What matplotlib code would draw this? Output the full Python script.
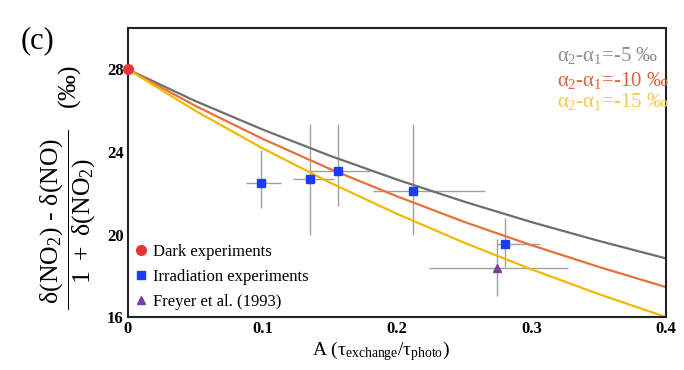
import matplotlib
matplotlib.use("Agg")
import matplotlib.pyplot as plt

plt.rcParams['font.family'] = ['Liberation Serif', 'DejaVu Serif']
plt.rcParams['mathtext.fontset'] = 'custom'
plt.rcParams['mathtext.rm'] = 'Liberation Serif'
plt.rcParams['mathtext.it'] = 'Liberation Serif'
plt.rcParams['mathtext.bf'] = 'Liberation Serif:bold'

# model curves
curve_x = [0, 0.05, 0.1, 0.15, 0.2, 0.25, 0.3, 0.35, 0.4]
curve_m5 = [28, 26.47, 25.09, 23.82, 22.66, 21.59, 20.60, 19.69, 18.84]
curve_m10 = [28, 26.24, 24.64, 23.18, 21.85, 20.61, 19.48, 18.43, 17.45]
curve_m15 = [28, 26.00, 24.18, 22.52, 21.00, 19.60, 18.31, 17.11, 16.00]

dark_x = [0.0]
dark_y = [28.0]

irr_x = [0.099, 0.135, 0.156, 0.212, 0.280]
irr_y = [22.5, 22.7, 23.1, 22.1, 19.55]
irr_xlo = [0.0875, 0.123, 0.134, 0.182, 0.2745]
irr_xhi = [0.114, 0.153, 0.180, 0.265, 0.306]
irr_ylo = [21.3, 20.0, 21.4, 20.0, 18.45]
irr_yhi = [24.1, 25.35, 25.35, 25.35, 20.8]

frey_x = [0.2746]
frey_y = [18.38]
frey_xlo = [0.224]
frey_xhi = [0.327]
frey_ylo = [17.0]
frey_yhi = [19.8]

fig = plt.figure(figsize=(6.84, 3.70), dpi=100)
ax = fig.add_axes([0.187, 0.143, 0.787, 0.781])

ax.plot(curve_x, curve_m5, color='#6e6e6e', lw=1.6, zorder=2)
ax.plot(curve_x, curve_m10, color='#e8703a', lw=1.6, zorder=2)
ax.plot(curve_x, curve_m15, color='#f5b800', lw=1.6, zorder=2)

def err(xs, ys, xlo, xhi, ylo, yhi):
    xe = [[x - l for x, l in zip(xs, xlo)], [h - x for x, h in zip(xs, xhi)]]
    ye = [[y - l for y, l in zip(ys, ylo)], [h - y for y, h in zip(ys, yhi)]]
    ax.errorbar(xs, ys, xerr=xe, yerr=ye, fmt='none', ecolor='#a0a0a0',
                elinewidth=1.0, capsize=0, zorder=1)

err(irr_x, irr_y, irr_xlo, irr_xhi, irr_ylo, irr_yhi)
err(frey_x, frey_y, frey_xlo, frey_xhi, frey_ylo, frey_yhi)

ax.plot(dark_x, dark_y, 'o', color='#e8343a', ms=7, clip_on=False, zorder=5,
        label='Dark experiments')
ax.plot(irr_x, irr_y, 's', color='#1a3cff', ms=6, zorder=5,
        label='Irradiation experiments')
ax.plot(frey_x, frey_y, '^', color='#7b3f9e', ms=6, zorder=5,
        label='Freyer et al. (1993)')

ax.set_xlim(0, 0.4)
ax.set_ylim(16, 30)
ax.set_xticks([0, 0.1, 0.2, 0.3, 0.4])
ax.set_xticklabels(['0', '0.1', '0.2', '0.3', '0.4'])
ax.set_yticks([16, 20, 24, 28])
ax.tick_params(length=0, labelsize=12, pad=3)
for lab in ax.get_xticklabels() + ax.get_yticklabels():
    lab.set_fontweight('bold')
for s in ax.spines.values():
    s.set_linewidth(1.5)
    s.set_color('#222222')

ax.set_xlabel(r'A ($\tau_{\rm exchange}$/$\tau_{\rm photo}$)', fontsize=14, labelpad=1)
ax.xaxis.set_label_coords(0.47, -0.075)
ax.set_ylabel(r'$\dfrac{\ \delta({\rm NO_2})\ \text{-}\ \delta({\rm NO})\ }{1\ +\ \delta({\rm NO_2})}\quad$(‰)',
              fontsize=18.5)
ax.yaxis.set_label_coords(-0.058, 0.45)

leg = ax.legend(loc='lower left', frameon=False, fontsize=12, handletextpad=0.25,
                handlelength=1.0, labelspacing=0.55, borderaxespad=0.2,
                bbox_to_anchor=(-0.01, -0.01))

ax.text(0.797, 0.905, r'$\alpha_2$-$\alpha_1$=-5 ‰', transform=ax.transAxes,
        color='#8f8f8f', fontsize=15, ha='left', va='center')
ax.text(0.797, 0.82, r'$\alpha_2$-$\alpha_1$=-10 ‰', transform=ax.transAxes,
        color='#e0603a', fontsize=15, ha='left', va='center')
ax.text(0.797, 0.745, r'$\alpha_2$-$\alpha_1$=-15 ‰', transform=ax.transAxes,
        color='#f6c74a', fontsize=15, ha='left', va='center')

fig.text(0.03, 0.89, '(c)', fontsize=22, ha='left', va='center')

fig.savefig('out.png', dpi=100)
